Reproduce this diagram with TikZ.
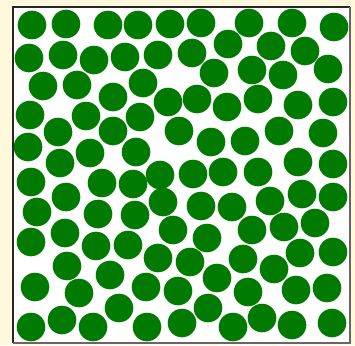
\documentclass[tikz,border=0pt]{standalone}
\begin{document}
\begin{tikzpicture}[x=1pt,y=-1pt,
  ball/.style={fill={rgb,255:red,0;green,122;blue,0}},
  frameline/.style={line width=1.6pt}]
\definecolor{bgyellow}{RGB}{255,248,220}
\fill[bgyellow] (0,0) rectangle (355,345);
\useasboundingbox (0,0) rectangle (355,345);
\fill[white] (13,7) rectangle (350,343);
\foreach \x/\y in {32/25,66/24,108/25,138/25,170/24,201/23,249/23,292/23,334/27,
29/58,63/55,94/60,125/57,158/55,192/53,228/44,271/46,305/51,
43/86,77/85,143/83,113/97,168/102,214/73,252/70,283/75,328/69,
30/115,86/116,140/117,197/99,227/107,258/99,298/105,333/102,
58/132,113/131,179/131,211/142,245/141,279/131,323/133,
28/147,90/153,136/152,60/163,193/174,223/172,258/172,298/162,333/164,
31/182,102/183,133/184,160/175,66/197,37/212,98/214,135/215,163/202,
201/206,232/207,270/201,302/194,333/197,173/230,65/233,31/242,96/246,
128/245,158/258,207/238,252/230,284/227,315/223,300/253,333/252,
67/266,110/275,190/262,243/259,274/269,35/287,79/293,146/287,178/291,
217/278,248/292,296/290,327/288,119/308,208/308,62/320,31/327,93/327,
147/327,182/323,233/327,262/318,292/325,332/323}
  \fill[ball] (\x,\y) circle (14.3);
\draw[frameline, black!85] (13,343) -- (13,7) -- (350,7);
\draw[frameline, black!60] (350,7) -- (350,343) -- (13,343);
\end{tikzpicture}
\end{document}
